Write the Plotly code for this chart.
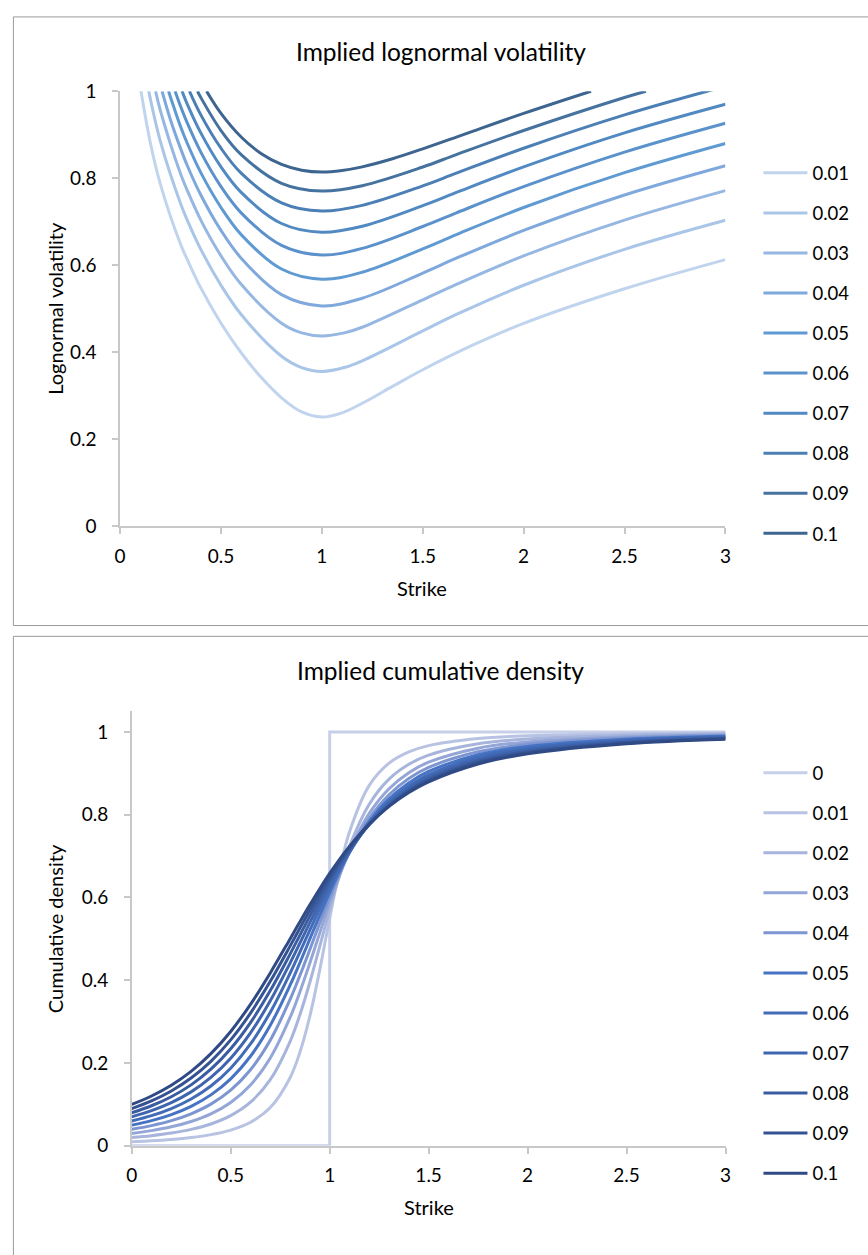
import plotly.graph_objects as go

# ---------------- Top chart: implied lognormal volatility ----------------
vol_labels = ["0.01", "0.02", "0.03", "0.04", "0.05", "0.06", "0.07", "0.08", "0.09", "0.1"]
vol_colors = ["#c0d4ee", "#a9c5e8", "#95b7e2", "#7fa8dc", "#5f9ad3",
              "#5b92cc", "#5189c2", "#4c7fb5", "#45729f", "#3d6590"]

strike_001 = [0.1, 0.15, 0.2, 0.3, 0.3333, 0.4, 0.5, 0.6, 0.7, 0.8, 0.9, 1.0, 1.1, 1.2, 1.35, 1.5, 1.75, 2.0, 2.5, 3.0]
vol_001 = [1.01, 0.881, 0.786, 0.648, 0.613, 0.548, 0.467, 0.399, 0.342, 0.2955, 0.263, 0.2513, 0.261, 0.2829, 0.3217, 0.360, 0.417, 0.4665, 0.546, 0.613]

strike_002 = [0.142, 0.2, 0.3, 0.3333, 0.4, 0.5, 0.6, 0.8, 0.9, 1.0, 1.111, 1.2, 1.5, 1.6667, 2.0, 2.5, 3.0]
vol_002 = [1.0, 0.884, 0.7415, 0.7034, 0.6366, 0.5541, 0.487, 0.3911, 0.365, 0.3561, 0.365, 0.3806, 0.4491, 0.487, 0.5541, 0.6366, 0.7034]

strike_003 = [0.1758, 0.2, 0.3, 0.3333, 0.4, 0.5, 0.6, 0.8, 0.9, 1.0, 1.111, 1.2, 1.5, 1.6667, 2.0, 2.5, 3.0]
vol_003 = [1.0, 0.955, 0.8099, 0.7716, 0.7039, 0.6217, 0.5563, 0.467, 0.4447, 0.4377, 0.4447, 0.4576, 0.5207, 0.5563, 0.6217, 0.7039, 0.7716]

strike_004 = [0.208, 0.25, 0.3, 0.3333, 0.4, 0.5, 0.6, 0.8, 1.0, 1.2, 1.5, 1.6667, 2.0, 2.5, 3.0]
vol_004 = [1.0, 0.934, 0.8681, 0.8288, 0.7616, 0.6801, 0.6163, 0.5326, 0.5067, 0.5244, 0.582, 0.6163, 0.6801, 0.7616, 0.8288]

strike_005 = [0.24, 0.3, 0.3333, 0.4, 0.5, 0.6, 0.8, 1.0, 1.2, 1.5, 1.6667, 2.0, 2.5, 3.0]
vol_005 = [1.0, 0.9184, 0.8798, 0.8128, 0.7328, 0.6705, 0.5914, 0.568, 0.5841, 0.6377, 0.6705, 0.7328, 0.8128, 0.8798]

strike_006 = [0.2727, 0.3, 0.3333, 0.4, 0.5, 0.6, 0.8, 1.0, 1.2, 1.5, 1.6667, 2.0, 2.5, 3.0]
vol_006 = [1.0, 0.965, 0.9265, 0.8601, 0.7808, 0.7205, 0.6456, 0.6236, 0.6389, 0.6891, 0.7205, 0.7808, 0.8601, 0.9265]

strike_007 = [0.307, 0.3333, 0.4, 0.5, 0.6, 0.8, 1.0, 1.2, 1.5, 1.6667, 2.0, 2.5, 3.0]
vol_007 = [1.0, 0.9699, 0.9042, 0.826, 0.7674, 0.696, 0.6758, 0.6898, 0.7371, 0.7674, 0.826, 0.9042, 0.9699]

strike_008 = [0.3437, 0.4, 0.5, 0.6, 0.8, 1.0, 1.2, 1.5, 1.6667, 2.0, 2.5, 2.9095, 3.0]
vol_008 = [1.0, 0.9457, 0.869, 0.8117, 0.7435, 0.7246, 0.7377, 0.7824, 0.8117, 0.869, 0.9457, 1.0, 1.011]

strike_009 = [0.3837, 0.4, 0.5, 0.6, 0.8, 1.0, 1.2, 1.5, 1.6667, 2.0, 2.5, 2.606]
vol_009 = [1.0, 0.9855, 0.9097, 0.8544, 0.7885, 0.7706, 0.7829, 0.8258, 0.8544, 0.9097, 0.9855, 1.0]

strike_010 = [0.4285, 0.5, 0.6, 0.7, 0.8, 0.9, 1.0, 1.1, 1.2, 1.35, 1.5, 1.6667, 1.75, 2.0, 2.334]
vol_010 = [1.0, 0.949, 0.8947, 0.8564, 0.8318, 0.8185, 0.8142, 0.8179, 0.8262, 0.8448, 0.8676, 0.8947, 0.9085, 0.9491, 1.0]

vol_strikes = [strike_001, strike_002, strike_003, strike_004, strike_005,
               strike_006, strike_007, strike_008, strike_009, strike_010]
vol_series = [vol_001, vol_002, vol_003, vol_004, vol_005,
              vol_006, vol_007, vol_008, vol_009, vol_010]

# ---------------- Bottom chart: implied cumulative density ----------------
cdf_labels = ["0", "0.01", "0.02", "0.03", "0.04", "0.05", "0.06", "0.07", "0.08", "0.09", "0.1"]
cdf_colors = ["#c8d0e9", "#b8c3e3", "#a7b5dd", "#94a6d7", "#7d95d0", "#4673c4",
              "#426bb8", "#3f65ae", "#3a5ca0", "#355393", "#2f4a84"]

cdf0_strike = [0.0, 1.0, 1.0, 3.0]
cdf0_value = [0.0, 0.0, 1.0, 1.0]

cdf_strike = [0, 0.1, 0.2, 0.3, 0.4, 0.5, 0.6, 0.7, 0.8, 0.85, 0.9, 0.95, 1.0, 1.05, 1.1,
              1.2, 1.3, 1.4, 1.5, 1.75, 2.0, 2.5, 3.0]
cdf_001 = [0.01, 0.0123, 0.0155, 0.0201, 0.0271, 0.0381, 0.0571, 0.0924, 0.1646, 0.2265, 0.3135, 0.4255, 0.55, 0.6659, 0.7582, 0.8708, 0.9246, 0.9518, 0.9670, 0.9841, 0.9907, 0.9958, 0.9976]
cdf_002 = [0.02, 0.0246, 0.0308, 0.0397, 0.0528, 0.0729, 0.1053, 0.1598, 0.2519, 0.3172, 0.3952, 0.4822, 0.5707, 0.6530, 0.7236, 0.8254, 0.8860, 0.9218, 0.9439, 0.9713, 0.9828, 0.9919, 0.9954]
cdf_003 = [0.03, 0.0368, 0.0459, 0.0588, 0.0773, 0.1049, 0.1471, 0.2123, 0.3102, 0.3725, 0.4418, 0.5146, 0.5866, 0.6534, 0.7123, 0.8031, 0.8629, 0.9016, 0.9270, 0.9608, 0.9760, 0.9885, 0.9933]
cdf_004 = [0.04, 0.0489, 0.0608, 0.0774, 0.1007, 0.1344, 0.1838, 0.2553, 0.3536, 0.4121, 0.4745, 0.5382, 0.6, 0.6574, 0.7087, 0.7907, 0.8481, 0.8873, 0.9143, 0.9521, 0.9700, 0.9853, 0.9914]
cdf_005 = [0.05, 0.0609, 0.0756, 0.0955, 0.1231, 0.1619, 0.2165, 0.2915, 0.3882, 0.4430, 0.5, 0.5570, 0.6118, 0.6627, 0.7085, 0.7835, 0.8381, 0.8769, 0.9045, 0.9449, 0.9648, 0.9824, 0.9896]
cdf_006 = [0.06, 0.0729, 0.0901, 0.1132, 0.1446, 0.1876, 0.2461, 0.3228, 0.4170, 0.4685, 0.5210, 0.5729, 0.6225, 0.6685, 0.7101, 0.7794, 0.8312, 0.8692, 0.8969, 0.9389, 0.9603, 0.9798, 0.9879]
cdf_007 = [0.07, 0.0849, 0.1044, 0.1304, 0.1652, 0.2118, 0.2730, 0.3504, 0.4416, 0.4902, 0.5391, 0.5868, 0.6323, 0.6745, 0.7128, 0.7772, 0.8265, 0.8634, 0.8909, 0.9338, 0.9564, 0.9774, 0.9864]
cdf_008 = [0.08, 0.0968, 0.1186, 0.1473, 0.1851, 0.2345, 0.2977, 0.3751, 0.4632, 0.5092, 0.5550, 0.5993, 0.6414, 0.6805, 0.7161, 0.7764, 0.8233, 0.8591, 0.8862, 0.9295, 0.9529, 0.9753, 0.9849]
cdf_009 = [0.09, 0.1086, 0.1326, 0.1638, 0.2042, 0.2560, 0.3206, 0.3974, 0.4825, 0.5262, 0.5692, 0.6107, 0.65, 0.6864, 0.7197, 0.7766, 0.8213, 0.8559, 0.8825, 0.9258, 0.9499, 0.9733, 0.9836]
cdf_010 = [0.1, 0.1204, 0.1464, 0.1799, 0.2227, 0.2764, 0.3419, 0.4178, 0.5, 0.5415, 0.5822, 0.6213, 0.6581, 0.6923, 0.7236, 0.7774, 0.8201, 0.8536, 0.8796, 0.9227, 0.9472, 0.9715, 0.9824]
cdf_series = [cdf_001, cdf_002, cdf_003, cdf_004, cdf_005, cdf_006, cdf_007, cdf_008, cdf_009, cdf_010]

x_ticks = [0, 0.5, 1, 1.5, 2, 2.5, 3]
y_ticks = [0, 0.2, 0.4, 0.6, 0.8, 1]

# ---------------- Figure ----------------
W, H = 868, 1255
FONT = "Lato"
AXIS_GREY = "#c8c8c8"
LINE_W = 3


def px_x(v):
    return v / W


def px_y(v):
    return 1 - v / H


fig = go.Figure()

for i, lab in enumerate(vol_labels):
    fig.add_trace(go.Scatter(
        x=vol_strikes[i], y=vol_series[i], mode="lines", name=lab,
        line=dict(color=vol_colors[i], width=LINE_W, shape="spline", smoothing=1.0),
        xaxis="x", yaxis="y", legend="legend", legendgroup="v" + lab,
        hoverinfo="skip"))

fig.add_trace(go.Scatter(
    x=cdf0_strike, y=cdf0_value, mode="lines", name=cdf_labels[0],
    line=dict(color=cdf_colors[0], width=LINE_W),
    xaxis="x2", yaxis="y2", legend="legend2", legendgroup="c0", hoverinfo="skip"))
for i, series in enumerate(cdf_series):
    lab = cdf_labels[i + 1]
    fig.add_trace(go.Scatter(
        x=cdf_strike, y=series, mode="lines", name=lab,
        line=dict(color=cdf_colors[i + 1], width=LINE_W, shape="spline", smoothing=1.0),
        xaxis="x2", yaxis="y2", legend="legend2", legendgroup="c" + lab,
        hoverinfo="skip"))

axis_common = dict(
    showline=True, linecolor=AXIS_GREY, linewidth=1.5,
    ticks="outside", ticklen=6, tickcolor=AXIS_GREY, tickwidth=1.5,
    showgrid=False, zeroline=False,
    tickfont=dict(family=FONT, size=19, color="#000000"),
    fixedrange=True,
)

legend_common = dict(
    font=dict(family=FONT, size=18.5, color="#000000"),
    tracegroupgap=13, bgcolor="rgba(0,0,0,0)", borderwidth=0,
    traceorder="grouped", itemwidth=44,
)

fig.update_layout(
    width=W, height=H,
    margin=dict(l=0, r=0, t=0, b=0),
    paper_bgcolor="white", plot_bgcolor="white",
    showlegend=True,
    xaxis=dict(domain=[px_x(115.7), px_x(729.5)], range=[0, 3], tickvals=x_ticks,
               ticktext=["0", "0.5", "1", "1.5", "2", "2.5", "3"], anchor="y",
               ticklabelstandoff=6, **axis_common),
    yaxis=dict(domain=[px_y(524), px_y(80.7)], range=[0, 1], tickvals=y_ticks,
               ticktext=["0", "0.2", "0.4", "0.6", "0.8", "1"], anchor="x",
               ticklabelstandoff=12, **axis_common),
    xaxis2=dict(domain=[px_x(127.5), px_x(729.6)], range=[0, 3], tickvals=x_ticks,
                ticktext=["0", "0.5", "1", "1.5", "2", "2.5", "3"], anchor="y2",
                ticklabelstandoff=6, **axis_common),
    yaxis2=dict(domain=[px_y(1155), px_y(712.3)], range=[0, 1.05], tickvals=y_ticks,
                ticktext=["0", "0.2", "0.4", "0.6", "0.8", "1"], anchor="x2",
                ticklabelstandoff=12, **axis_common),
    legend=dict(x=px_x(763), xanchor="left", y=px_y(145), yanchor="top", **legend_common),
    legend2=dict(x=px_x(763), xanchor="left", y=px_y(756), yanchor="top", **legend_common),
    shapes=[
        dict(type="rect", xref="paper", yref="paper",
             x0=px_x(7.5), x1=1.02, y0=px_y(625), y1=px_y(5),
             line=dict(color="#9a9a9a", width=1), fillcolor="rgba(0,0,0,0)", layer="below"),
        dict(type="rect", xref="paper", yref="paper",
             x0=px_x(7.5), x1=1.02, y0=-0.02, y1=px_y(636),
             line=dict(color="#9a9a9a", width=1), fillcolor="rgba(0,0,0,0)", layer="below"),
    ],
    annotations=[
        dict(text="Implied lognormal volatility", x=px_x(441), y=px_y(40),
             xref="paper", yref="paper", showarrow=False, xanchor="center", yanchor="middle",
             font=dict(family=FONT, size=24.5, color="#000000")),
        dict(text="Lognormal volatility", x=px_x(50), y=px_y(302),
             xref="paper", yref="paper", showarrow=False, xanchor="center", yanchor="middle",
             textangle=-90, font=dict(family=FONT, size=20, color="#000000")),
        dict(text="Strike", x=px_x(422), y=px_y(587),
             xref="paper", yref="paper", showarrow=False, xanchor="center", yanchor="middle",
             font=dict(family=FONT, size=20, color="#000000")),
        dict(text="Implied cumulative density", x=px_x(441), y=px_y(670.6),
             xref="paper", yref="paper", showarrow=False, xanchor="center", yanchor="middle",
             font=dict(family=FONT, size=24.5, color="#000000")),
        dict(text="Cumulative density", x=px_x(50), y=px_y(934),
             xref="paper", yref="paper", showarrow=False, xanchor="center", yanchor="middle",
             textangle=-90, font=dict(family=FONT, size=20, color="#000000")),
        dict(text="Strike", x=px_x(428.5), y=px_y(1217),
             xref="paper", yref="paper", showarrow=False, xanchor="center", yanchor="middle",
             font=dict(family=FONT, size=20, color="#000000")),
    ],
)

# Pin the 868x1255 figure to the top-left corner of the window with no page margin.
page_fix = (
    "document.documentElement.style.margin='0';"
    "document.documentElement.style.overflow='hidden';"
    "document.body.style.margin='0';document.body.style.padding='0';"
    "document.body.style.overflow='hidden';"
    "var gd=document.getElementsByClassName('plotly-graph-div')[0];"
    "gd.style.position='fixed';gd.style.left='0px';gd.style.top='0px';"
)
fig.write_html("out.html", post_script=page_fix, config={"displayModeBar": False})
